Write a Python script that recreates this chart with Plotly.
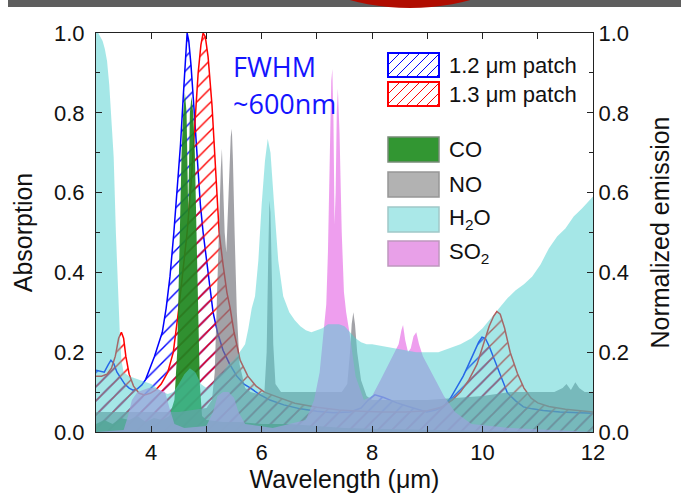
import plotly.graph_objects as go

# ---------------- data ----------------
blue_wl = [3.0,3.08,3.15,3.22,3.27,3.32,3.38,3.45,3.52,3.6,3.67,3.75,3.83,3.9,3.98,4.06,4.13,4.2,4.27,4.34,
           4.41,4.47,4.53,4.58,4.62,4.65,4.68,4.72,4.77,4.83,4.89,4.94,5.0,5.06,5.12,5.2,5.3,5.42,5.55,5.68,
           5.8,5.95,6.15,6.4,6.7,7.0,7.3,7.6,7.8,7.93,8.05,8.2,8.45,8.7,8.85,8.99,9.15,9.3,9.42,9.54,
           9.65,9.75,9.85,9.93,9.99,10.05,10.12,10.19,10.27,10.36,10.45,10.6,10.74,10.9,11.1,11.4,11.7,12.0]
blue_val = [0.155,0.152,0.15,0.168,0.18,0.172,0.15,0.135,0.12,0.11,0.105,0.108,0.118,0.132,0.16,0.19,0.22,0.25,0.31,0.39,
            0.5,0.6,0.72,0.84,0.94,1.0,0.98,0.92,0.82,0.69,0.57,0.5,0.43,0.36,0.3,0.25,0.205,0.17,0.14,0.12,
            0.11,0.095,0.08,0.068,0.058,0.052,0.048,0.05,0.06,0.08,0.093,0.087,0.073,0.062,0.056,0.05,0.055,0.065,0.085,0.113,
            0.14,0.17,0.2,0.225,0.238,0.235,0.215,0.19,0.16,0.125,0.098,0.078,0.063,0.058,0.054,0.05,0.048,0.047]

red_wl = [3.0,3.1,3.2,3.28,3.35,3.41,3.46,3.5,3.54,3.6,3.68,3.78,3.88,3.98,4.08,4.18,4.3,4.4,4.5,4.58,
          4.65,4.72,4.79,4.85,4.9,4.94,4.98,5.03,5.1,5.17,5.23,5.3,5.37,5.43,5.5,5.61,5.75,5.9,6.05,6.28,
          6.6,7.0,7.4,7.8,8.2,8.6,9.0,9.25,9.45,9.6,9.75,9.9,10.02,10.12,10.2,10.26,10.32,10.4,10.5,10.63,
          10.75,10.88,11.0,11.2,11.5,11.8,12.0]
red_val = [0.14,0.14,0.145,0.16,0.19,0.235,0.25,0.235,0.19,0.145,0.115,0.097,0.093,0.097,0.105,0.12,0.15,0.2,0.31,0.41,
           0.5,0.62,0.78,0.9,0.97,1.0,0.99,0.94,0.82,0.66,0.5,0.42,0.35,0.31,0.25,0.18,0.14,0.115,0.1,0.088,
           0.072,0.062,0.055,0.052,0.05,0.05,0.053,0.062,0.08,0.1,0.13,0.17,0.22,0.265,0.29,0.302,0.295,0.26,0.2,0.147,
           0.11,0.085,0.073,0.064,0.057,0.052,0.05]

co_wl = [3.0,3.15,3.3,3.45,3.6,3.75,3.9,4.05,4.2,4.33,4.42,4.47,4.51,4.55,4.58,4.61,4.64,4.67,4.7,4.73,
         4.76,4.79,4.82,4.85,4.88,4.92,5.0,5.3,5.6,6.0,6.5,7.0,7.5,8.0,9.0,10.0,12.0]
co_val = [0.02,0.03,0.02,0.035,0.03,0.04,0.025,0.035,0.03,0.04,0.08,0.2,0.45,0.7,0.8,0.85,0.8,0.55,0.8,0.84,
          0.8,0.7,0.5,0.3,0.12,0.04,0.03,0.025,0.025,0.02,0.02,0.015,0.01,0.008,0.005,0.003,0.0]

no_wl = [3.0,3.5,4.0,4.5,5.0,5.1,5.15,5.19,5.23,5.26,5.28,5.3,5.33,5.36,5.39,5.42,5.44,5.46,5.48,5.51,
         5.55,5.6,5.7,5.8,5.95,6.05,6.09,6.12,6.14,6.16,6.18,6.21,6.25,6.35,6.6,6.9,7.2,7.45,7.55,7.6,
         7.63,7.66,7.69,7.73,7.8,7.9,8.0,8.3,8.6,9.0,9.5,10.0,10.5,11.0,11.3,11.45,11.52,11.6,11.68,11.75,
         11.85,12.0]
no_val = [0.05,0.05,0.05,0.05,0.06,0.08,0.15,0.33,0.55,0.66,0.71,0.64,0.5,0.45,0.55,0.68,0.74,0.76,0.68,0.5,
          0.3,0.17,0.11,0.1,0.095,0.1,0.2,0.45,0.58,0.55,0.4,0.22,0.12,0.1,0.1,0.1,0.1,0.1,0.12,0.2,
          0.27,0.3,0.27,0.2,0.13,0.09,0.08,0.08,0.08,0.08,0.085,0.09,0.1,0.1,0.1,0.11,0.12,0.105,0.125,0.11,
          0.1,0.1]

h2o_wl = [3.0,3.04,3.08,3.12,3.16,3.2,3.24,3.28,3.32,3.36,3.4,3.43,3.46,3.5,3.6,3.7,3.8,3.9,4.0,4.1,
          4.2,4.3,4.4,4.5,4.6,4.7,4.8,4.9,5.0,5.1,5.2,5.3,5.4,5.5,5.6,5.7,5.76,5.82,5.88,5.94,
          6.0,6.06,6.11,6.16,6.22,6.3,6.39,6.5,6.6,6.7,6.8,6.9,7.0,7.1,7.2,7.3,7.4,7.5,7.6,7.7,
          7.8,7.9,8.0,8.2,8.4,8.6,8.8,9.0,9.2,9.4,9.6,9.8,10.0,10.15,10.3,10.45,10.6,10.75,10.9,11.05,
          11.2,11.35,11.5,11.65,11.8,11.9,12.0]
h2o_val = [1.0,1.0,0.99,0.98,0.96,0.93,0.87,0.79,0.69,0.5,0.33,0.25,0.18,0.15,0.14,0.135,0.13,0.125,0.12,0.11,
           0.1,0.095,0.1,0.12,0.145,0.16,0.15,0.12,0.11,0.12,0.14,0.15,0.17,0.18,0.2,0.22,0.26,0.31,0.34,0.43,
           0.57,0.68,0.735,0.7,0.58,0.43,0.34,0.3,0.28,0.265,0.255,0.25,0.255,0.26,0.27,0.27,0.27,0.265,0.25,0.235,
           0.225,0.22,0.22,0.215,0.21,0.205,0.2,0.2,0.2,0.21,0.22,0.235,0.26,0.285,0.31,0.335,0.355,0.37,0.39,0.42,
           0.46,0.49,0.51,0.54,0.56,0.575,0.59]

so2_wl = [3.0,3.5,3.58,3.65,3.75,3.85,3.95,4.05,4.15,4.25,4.33,4.42,4.6,5.0,5.12,5.2,5.3,5.4,5.5,5.58,
          5.7,6.2,6.8,6.95,7.05,7.12,7.17,7.2,7.23,7.26,7.28,7.3,7.32,7.34,7.36,7.38,7.41,7.45,7.49,7.53,
          7.6,7.7,7.85,8.0,8.15,8.3,8.42,8.48,8.53,8.56,8.6,8.65,8.7,8.75,8.8,8.85,8.92,9.0,9.15,9.3,
          9.5,9.8,10.5,12.0]
so2_val = [0.0,0.005,0.04,0.08,0.1,0.105,0.11,0.11,0.105,0.1,0.06,0.02,0.01,0.015,0.05,0.09,0.1,0.1,0.085,0.05,
           0.02,0.01,0.03,0.08,0.15,0.25,0.32,0.45,0.7,0.88,0.91,0.78,0.52,0.6,0.8,0.86,0.75,0.5,0.35,0.3,
           0.24,0.14,0.08,0.09,0.13,0.17,0.2,0.22,0.255,0.268,0.23,0.2,0.21,0.24,0.25,0.22,0.19,0.17,0.13,0.09,
           0.05,0.02,0.01,0.0]

emission_names = ["1.2 μm patch", "1.3 μm patch"]
gas_names = ["CO", "NO", "H<sub>2</sub>O", "SO<sub>2</sub>"]
x_ticks = [4, 6, 8, 10, 12]
y_ticks = [0.0, 0.2, 0.4, 0.6, 0.8, 1.0]

# ---------------- styling ----------------
W_FIG, H_FIG = 681, 497
L, R, T, B = 96, 88, 33, 65
PW, PH = W_FIG - L - R, H_FIG - T - B
FONT = "Liberation Sans, Arial, sans-serif"

BLUE = "rgb(0,0,255)"
RED = "rgb(255,0,0)"
CO_C = "rgba(30,135,30,0.92)"
NO_C = "rgba(122,122,130,0.7)"
SO2_C = "rgba(232,120,232,0.72)"
H2O_C = "rgba(75,207,207,0.5)"


def px(xp):
    return (xp - L) / PW


def py(yp):
    return (T + PH - yp) / PH


fig = go.Figure()

for wl, val, col in [(blue_wl, blue_val, BLUE), (red_wl, red_val, RED)]:
    fig.add_trace(go.Scatter(
        x=wl, y=val, mode="lines", fill="tozeroy",
        line=dict(color=col, width=1.5),
        fillcolor="rgba(0,0,0,0)",
        fillpattern=dict(shape="/", fgcolor=col, fgopacity=1, bgcolor="rgba(0,0,0,0)", size=10, solidity=0.14),
        showlegend=False, hoverinfo="skip"))

for wl, val, col in [(co_wl, co_val, CO_C), (no_wl, no_val, NO_C), (so2_wl, so2_val, SO2_C), (h2o_wl, h2o_val, H2O_C)]:
    fig.add_trace(go.Scatter(
        x=wl, y=val, mode="lines", fill="tozeroy",
        line=dict(color=col, width=0), fillcolor=col,
        showlegend=False, hoverinfo="skip"))

# invisible companion trace so that the right-hand (emission) axis is drawn
fig.add_trace(go.Scatter(x=red_wl, y=red_val, yaxis="y2", mode="lines", line=dict(width=0),
                         opacity=0, showlegend=False, hoverinfo="skip"))

axis_common = dict(
    showline=True, linecolor="#222", linewidth=1.2,
    ticks="inside", ticklen=6, tickwidth=1.2, tickcolor="#222",
    tickfont=dict(family=FONT, size=22, color="#111"),
    showgrid=False, zeroline=False, automargin=False,
)

fig.update_layout(
    width=W_FIG, height=H_FIG,
    margin=dict(l=L, r=R, t=T, b=B),
    paper_bgcolor="white", plot_bgcolor="white",
    xaxis=dict(range=[3, 12], tickvals=x_ticks, ticktext=[str(v) for v in x_ticks],
               mirror="ticks",
               minor=dict(dtick=1, tick0=3, ticks="inside", ticklen=6, tickcolor="#222", tickwidth=1.2),
               title=dict(text="Wavelength (μm)", font=dict(family=FONT, size=25, color="#111"), standoff=4),
               **axis_common),
    yaxis=dict(range=[0, 1], tickvals=y_ticks, ticktext=["%.1f" % v for v in y_ticks],
               mirror=True, ticklabelstandoff=6,
               minor=dict(dtick=0.1, ticks="inside", ticklen=4, tickcolor="#222", tickwidth=1.2),
               title=dict(text="Absorption", font=dict(family=FONT, size=25, color="#111"), standoff=14),
               **axis_common),
    yaxis2=dict(range=[0, 1], overlaying="y", side="right", anchor="x",
                tickvals=y_ticks, ticktext=["%.1f" % v for v in y_ticks],
                minor=dict(dtick=0.1, ticks="inside", ticklen=4, tickcolor="#222", tickwidth=1.2),
                title=dict(text="Normalized emission", font=dict(family=FONT, size=25, color="#111"), standoff=23),
                **axis_common),
)

shapes = []
annotations = []

# cropped slide remnants at the top
shapes.append(dict(type="rect", xref="paper", yref="paper", x0=px(8), x1=px(681), y0=py(7), y1=py(-2),
                   fillcolor="#5e5e5e", line=dict(width=0), layer="above"))
shapes.append(dict(type="circle", xref="paper", yref="paper", x0=px(300), x1=px(520), y0=py(8), y1=py(-90),
                   fillcolor="#b00c00", line=dict(width=0), layer="above"))


def hatch_path(x0, y0, x1, y1, step=10):
    h = y1 - y0
    segs = []
    k = -h
    while k < (x1 - x0):
        tmin = max(0, -k)
        tmax = min(h, (x1 - x0) - k)
        if tmax > tmin:
            ax, ay = x0 + k + tmin, y1 - tmin
            bx, by = x0 + k + tmax, y1 - tmax
            segs.append("M%.5f,%.5f L%.5f,%.5f" % (px(ax), py(ay), px(bx), py(by)))
        k += step
    return " ".join(segs)


# legend: emission (hatched)
bx0, bx1 = 388, 439
tx = 447
for name, col, (yt, yb) in zip(emission_names, [BLUE, RED], [(53, 77), (82, 106)]):
    shapes.append(dict(type="rect", xref="paper", yref="paper", x0=px(bx0), x1=px(bx1), y0=py(yb), y1=py(yt),
                       fillcolor="white", line=dict(color=col, width=2), layer="above"))
    shapes.append(dict(type="path", xref="paper", yref="paper", path=hatch_path(bx0 + 1, yt + 1, bx1 - 1, yb - 1, 10),
                       line=dict(color=col, width=1), layer="above"))
    annotations.append(dict(xref="paper", yref="paper", x=px(tx), y=py((yt + yb) / 2), text=name,
                            showarrow=False, xanchor="left", yanchor="middle",
                            font=dict(family=FONT, size=22, color="#111")))

# legend: gases
gas_fill = ["rgb(50,150,50)", "rgb(178,178,178)", "rgb(170,232,232)", "rgb(232,160,232)"]
gas_line = ["rgb(120,140,120)", "rgb(150,150,150)", "rgb(160,200,200)", "rgb(190,150,190)"]
for name, fc, lc, (yt, yb) in zip(gas_names, gas_fill, gas_line, [(137, 162), (172, 197), (207, 232), (241, 266)]):
    shapes.append(dict(type="rect", xref="paper", yref="paper", x0=px(bx0), x1=px(bx1), y0=py(yb), y1=py(yt),
                       fillcolor=fc, line=dict(color=lc, width=1.5), layer="above"))
    annotations.append(dict(xref="paper", yref="paper", x=px(tx), y=py((yt + yb) / 2), text=name,
                            showarrow=False, xanchor="left", yanchor="middle",
                            font=dict(family=FONT, size=22, color="#111")))

# FWHM annotation
FW_FONT = dict(family="Open Sans, Noto Sans", size=27, color="rgb(20,20,255)")
annotations.append(dict(xref="paper", yref="paper", x=px(231), y=py(66), text="FWHM", showarrow=False,
                        xanchor="left", yanchor="middle", font=FW_FONT))
annotations.append(dict(xref="paper", yref="paper", x=px(231), y=py(103), text="~600nm", showarrow=False,
                        xanchor="left", yanchor="middle", font=FW_FONT))

fig.update_layout(shapes=shapes, annotations=annotations)

# the page body has a default 8px margin; remove it so the figure fills the window
fig.write_html("out.html", config={"displayModeBar": False},
               post_script="document.body.style.margin='0px';")
